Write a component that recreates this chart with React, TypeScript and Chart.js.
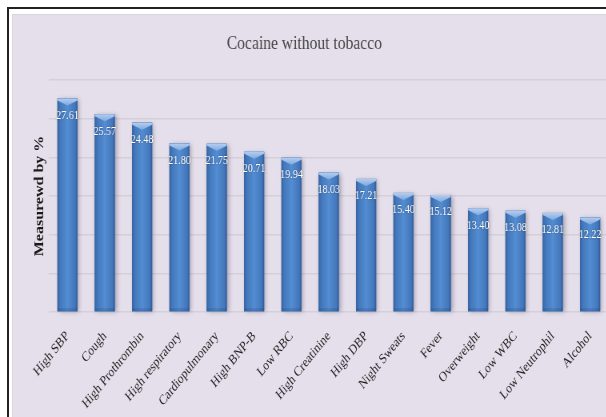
import React, { useEffect, useRef } from 'react';
import { Chart, registerables } from 'chart.js';

Chart.register(...registerables);

const categories = [
  'High SBP',
  'Cough',
  'High Prothrombin',
  'High respiratory',
  'Cardiopulmonary',
  'High BNP-B',
  'Low RBC',
  'High Creatinine',
  'High DBP',
  'Night Sweats',
  'Fever',
  'Overweight',
  'Low WBC',
  'Low Neutrophil',
  'Alcohol',
];
const values = [27.61, 25.57, 24.48, 21.8, 21.75, 20.71, 19.94, 18.03, 17.21, 15.4, 15.12, 13.4, 13.08, 12.81, 12.22];
const chartTitle = 'Cocaine without tobacco';
const yAxisTitle = 'Measurewd by %';
const yMin = 0;
const yMax = 30;
const yStep = 5;

const SERIF = "'Liberation Serif', 'Times New Roman', serif";
const SX = 0.8;

const barStylePlugin = {
  id: 'barStyle',
  beforeDatasetsDraw(chart: any) {
    const ctx = chart.ctx;
    const meta = chart.getDatasetMeta(0);
    ctx.save();
    meta.data.forEach((el: any) => {
      const { x, y, width, base } = el.getProps(['x', 'y', 'width', 'base'], true);
      ctx.shadowColor = 'rgba(70,60,80,0.4)';
      ctx.shadowBlur = 5;
      ctx.shadowOffsetX = 2;
      ctx.shadowOffsetY = 1;
      ctx.fillStyle = '#4478b9';
      ctx.fillRect(x - width / 2, y, width, base - y);
    });
    ctx.restore();
  },
  afterDatasetsDraw(chart: any) {
    const ctx = chart.ctx;
    const meta = chart.getDatasetMeta(0);
    const data = chart.data.datasets[0].data as number[];
    meta.data.forEach((el: any, i: number) => {
      const { x, y, width, base } = el.getProps(['x', 'y', 'width', 'base'], true);
      const l = x - width / 2;
      const r = x + width / 2;
      ctx.save();
      const g = ctx.createLinearGradient(l, 0, r, 0);
      g.addColorStop(0, '#33609c');
      g.addColorStop(0.12, '#4377bb');
      g.addColorStop(0.5, '#548dd2');
      g.addColorStop(0.88, '#4377bb');
      g.addColorStop(1, '#315c97');
      ctx.fillStyle = g;
      ctx.fillRect(l, y, width, base - y);
      // bottom bevel
      ctx.fillStyle = 'rgba(30,60,110,0.2)';
      ctx.fillRect(l, base - 3, width, 3);
      // top bevel
      const bh = 7;
      const gt = ctx.createLinearGradient(0, y, 0, y + bh);
      gt.addColorStop(0, '#b3cdf0');
      gt.addColorStop(1, '#80a9de');
      ctx.fillStyle = gt;
      ctx.beginPath();
      ctx.moveTo(l, y);
      ctx.lineTo(r, y);
      ctx.lineTo(r, y + 2);
      ctx.lineTo(x, y + bh);
      ctx.lineTo(l, y + 2);
      ctx.closePath();
      ctx.fill();
      // value label
      ctx.font = `12.5px ${SERIF}`;
      ctx.fillStyle = '#ffffff';
      ctx.textAlign = 'center';
      ctx.textBaseline = 'middle';
      ctx.shadowColor = 'rgba(0,0,0,0.4)';
      ctx.shadowBlur = 2;
      ctx.fillText(data[i].toFixed(2), x, y + 17);
      ctx.restore();
    });
  },
};

export default function App() {
  const ref = useRef<HTMLCanvasElement>(null);
  useEffect(() => {
    const chart = new Chart(ref.current as HTMLCanvasElement, {
      type: 'bar',
      data: {
        labels: categories,
        datasets: [
          {
            data: values,
            backgroundColor: '#4a7fc1',
            borderWidth: 0,
            categoryPercentage: 1,
            barPercentage: 0.536,
          },
        ],
      },
      options: {
        animation: false,
        responsive: false,
        maintainAspectRatio: false,
        layout: { padding: { left: 0, right: 1, top: 0, bottom: 0 } },
        plugins: {
          legend: { display: false },
          tooltip: { enabled: false },
          title: {
            display: true,
            text: chartTitle,
            color: '#474747',
            font: { family: SERIF, size: 19.5, weight: 'normal' },
            padding: { top: 31.8, bottom: 24.8 },
          },
        },
        scales: {
          x: {
            grid: { display: false },
            border: { display: false },
            ticks: {
              color: '#1f1f1f',
              font: { family: SERIF, size: 14 },
              minRotation: 45,
              maxRotation: 45,
              autoSkip: false,
              padding: 8,
            },
            afterFit: (s: any) => {
              s.height = 105;
            },
          },
          y: {
            min: yMin,
            max: yMax,
            ticks: { display: false, stepSize: yStep },
            grid: { color: '#d3d0d7', lineWidth: 1.5, drawTicks: false },
            border: { display: false },
            title: {
              display: true,
              text: yAxisTitle,
              color: '#1a1a1a',
              font: { family: SERIF, size: 16, weight: 'bold' },
              padding: { top: 40.4, bottom: 0 },
            },
            afterFit: (s: any) => {
              s.width = 61;
            },
          },
        },
      } as any,
      plugins: [barStylePlugin],
    });
    return () => chart.destroy();
  }, []);

  return (
    <div
      style={{
        position: 'fixed',
        left: 0,
        top: 0,
        width: 606,
        height: 417,
        overflow: 'hidden',
        background: '#ffffff',
      }}
    >
      <div
        style={{
          position: 'absolute',
          left: 7,
          top: 7,
          width: 700,
          height: 500,
          borderTop: '2px solid #222222',
          borderLeft: '2px solid #222222',
        }}
      />
      <div
        style={{
          position: 'absolute',
          left: 12,
          top: 14,
          width: 700,
          height: 500,
          background: '#e4dfea',
          border: '1px solid #d9d7dc',
        }}
      />
      <canvas
        ref={ref}
        width={762}
        height={417}
        style={{
          position: 'absolute',
          left: 0,
          top: 0,
          width: 762,
          height: 417,
          transform: `scaleX(${SX})`,
          transformOrigin: '0 0',
        }}
      />
    </div>
  );
}
